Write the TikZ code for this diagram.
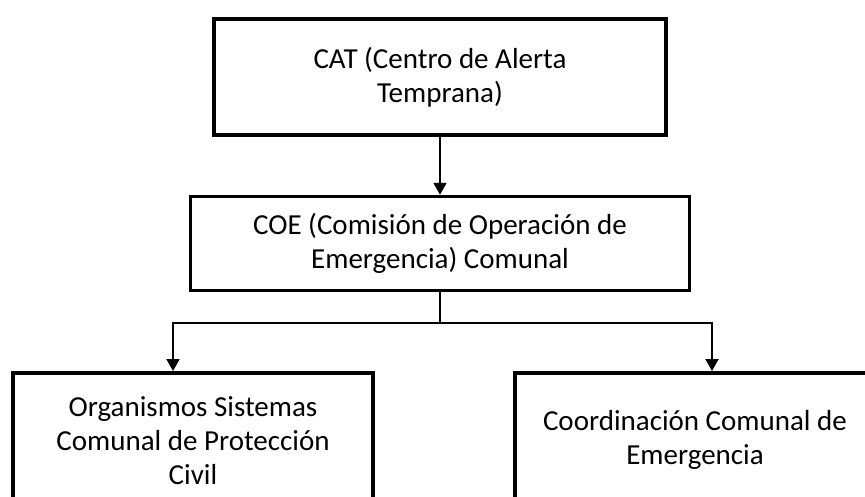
\documentclass[tikz,border=0pt]{standalone}
\usepackage{fontspec}
\setmainfont{Carlito}
\usetikzlibrary{positioning, arrows.meta}

\tikzset{
  unit/.style={draw, line width=3.5pt, align=center, inner sep=0pt,
    font=\fontsize{29}{34}\selectfont},
  wire/.style={line width=2pt},
  tip/.style={-{Triangle[length=12pt, width=13pt]}}
}

\begin{document}
\begin{tikzpicture}[x=1pt, y=-1pt]
        \useasboundingbox (0,0) rectangle (865,496);
        \clip (0,0) rectangle (865,496);
        \node [unit, minimum width=452pt, minimum height=116pt] (cat) at (440,77) {CAT (Centro de Alerta\\Temprana)};
        \node [unit, minimum width=499pt, minimum height=94pt, below=58pt of cat] (coe) {COE (Comisión de Operación de\\Emergencia) Comunal};
        \node [unit, minimum width=360pt, minimum height=135pt, anchor=north] (orgs) at (193,371) {Organismos Sistemas\\Comunal de Protección\\Civil};
        \node [unit, minimum width=360pt, minimum height=135pt, anchor=north] (coord) at (695,371) {Coordinación Comunal de\\Emergencia};
        \draw [wire, tip] (cat) -- (coe);
        \draw [wire] (coe.south) -- (coe.south |- 0,323) coordinate (fork);
        \draw [wire, tip] (fork) -| ([xshift=-20pt]orgs.north);
        \draw [wire, tip] (fork) -| ([xshift=17pt]coord.north);
    \end{tikzpicture}
\end{document}
